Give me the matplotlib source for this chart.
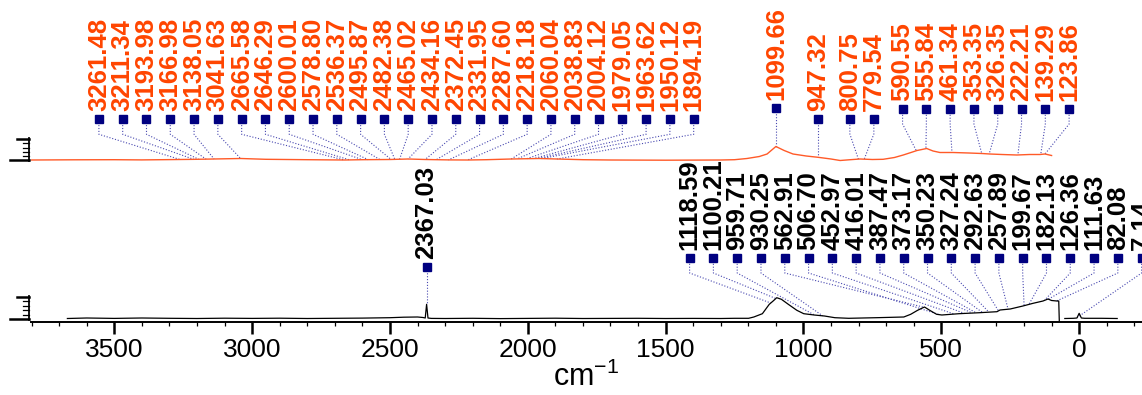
import matplotlib
matplotlib.use('Agg')
import matplotlib.pyplot as plt
from matplotlib.lines import Line2D
from matplotlib.ticker import MultipleLocator
import numpy as np

plt.rcParams['font.family'] = ['Liberation Sans', 'DejaVu Sans']
plt.rcParams['mathtext.default'] = 'regular'

# ---- data ----
# upper (red) trace: wavenumber / height above its own baseline
red_wn = [3800, 3650, 3500, 3400, 3261, 3200, 3140, 3041, 2950, 2800, 2665, 2600,
          2500, 2434, 2372, 2287, 2218, 2150, 2060, 1960, 1894, 1800, 1700, 1600,
          1500, 1400, 1300, 1250, 1205, 1160, 1132, 1100, 1070, 1038, 990, 947,
          900, 867, 830, 795, 750, 711, 670, 638, 610, 588, 553, 530, 505, 458,
          400, 353, 324, 280, 226, 180, 142, 124, 100]
red_int = [0.5, 0.7, 0.8, 0.6, 1.0, 1.2, 1.5, 2.0, 1.2, 0.8, 0.5, 0.8,
           1.0, 1.5, 1.0, 0.6, 0.5, 0.8, 1.5, 2.0, 1.5, 0.8, 0.5, 0.4,
           0.3, 0.4, 0.5, 0.8, 2.0, 4.0, 6.5, 14.0, 10.0, 6.5, 4.5, 3.2,
           1.5, 0.0, 0.8, 1.5, 1.0, 1.2, 3.0, 5.5, 8.0, 10.0, 12.0, 9.5, 8.0, 8.0,
           7.5, 7.0, 6.5, 6.0, 5.5, 6.0, 6.0, 6.5, 5.0]

# lower (black) trace: wavenumber / height above axis
black_wn = [3670, 3600, 3500, 3400, 3300, 3200, 3100, 3000, 2900, 2800, 2700, 2600,
            2500, 2450, 2400, 2380, 2372, 2367, 2362, 2350, 2300, 2200, 2100, 2000,
            1900, 1800, 1700, 1600, 1500, 1400, 1300, 1250, 1199, 1180, 1149, 1124,
            1110, 1097, 1080, 1055, 1024, 999, 961, 924, 886, 836, 736, 636, 611,
            586, 561, 542, 517, 498, 436, 361, 298, 287, 250, 204, 167, 131, 113,
            100, 81, 74, 72, np.nan, 52, 20, 8, 0, -8, -20, -80, -138]
black_int = [3.5, 4.0, 3.6, 4.0, 3.7, 3.5, 3.8, 3.6, 3.8, 3.5, 3.7, 3.9,
             4.3, 4.8, 5.0, 4.5, 4.0, 17.7, 4.0, 3.6, 3.5, 3.7, 3.4, 3.6,
             3.8, 3.5, 3.6, 3.7, 3.5, 3.6, 3.5, 3.7, 3.7, 5.0, 8.3, 17.7,
             21.0, 24.3, 22.7, 17.7, 11.7, 8.3, 7.0, 6.0, 4.3, 3.7, 4.3, 5.0, 7.7,
             11.7, 15.0, 11.7, 7.7, 7.0, 8.3, 9.3, 10.3, 12.0, 13.0, 16.0, 18.7, 21.0, 23.0,
             21.5, 21.0, 21.0, 1.0, np.nan, 3.5, 3.7, 4.0, 8.7, 4.0, 3.7, 3.7, 3.5]

red_peaks1 = [3261.48, 3211.34, 3193.98, 3166.98, 3138.05, 3041.63, 2665.58, 2646.29,
              2600.01, 2578.80, 2536.37, 2495.87, 2482.38, 2465.02, 2434.16, 2372.45,
              2331.95, 2287.60, 2218.18, 2060.04, 2038.83, 2004.12, 1979.05, 1963.62,
              1950.12, 1894.19]
red_peaks2 = [1099.66]
red_peaks3 = [947.32, 800.75, 779.54]
red_peaks4 = [590.55, 555.84, 461.34, 353.35, 326.35, 222.21, 139.29, 123.86]
black_peaks1 = [2367.03]
black_peaks2 = [1118.59, 1100.21, 959.71, 930.25, 562.91, 506.70, 452.97, 416.01,
                387.47, 373.17, 350.23, 327.24, 292.63, 257.89, 199.67, 182.13,
                126.36, 111.63, 82.08, 7.14]

# ---- layout ----
W, H = 1142, 395
fig = plt.figure(figsize=(W / 100, H / 100), dpi=100)
ax = fig.add_axes([31 / W, (H - 322) / H, 1 - 31 / W, 322 / H])
ax.set_xlim(3802, -228)
ax.set_ylim(0, 322)

RED = '#ff4500'
NAVY = '#000080'
LEAD = '#4848b0'
step = 86.3
red_base = 161.5

red_wn = np.array(red_wn)
red_y = np.array(red_int) + red_base
black_wn = np.array(black_wn)
black_y = np.array(black_int)

ax.plot(red_wn, red_y, color='#ff5a28', lw=1.0)
ax.plot(black_wn, black_y, color='black', lw=0.9)


def label_peaks(peaks, xs, y_sq, wn, yv, color):
    ok = ~np.isnan(wn)
    wn_s, y_s = wn[ok][::-1], yv[ok][::-1]
    for p, xl in zip(peaks, xs):
        yp = np.interp(p, wn_s, y_s)
        ax.plot([xl, xl, p], [y_sq, y_sq - 15, yp], color=LEAD, lw=0.8,
                ls=(0, (1, 1.6)), clip_on=False, zorder=1)
        ax.text(xl, y_sq + 8, f'{p:.2f}', rotation=90, ha='center', va='bottom',
                fontsize=18.5, fontweight='bold', color=color, clip_on=False)
    ax.plot(xs, [y_sq] * len(xs), 's', color=NAVY, ms=6, clip_on=False, zorder=3)


xs1 = [3555.7 - i * step for i in range(len(red_peaks1))]
label_peaks(red_peaks1, xs1, 202.7, red_wn, red_y, RED)
label_peaks(red_peaks2, red_peaks2, 214.3, red_wn, red_y, RED)
xs3 = [947.32, 831.7, 744.7]
label_peaks(red_peaks3, xs3, 203, red_wn, red_y, RED)
xs4 = [640.5 - i * step for i in range(len(red_peaks4))]
label_peaks(red_peaks4, xs4, 213, red_wn, red_y, RED)
label_peaks(black_peaks1, black_peaks1, 55, black_wn, black_y, 'black')
xs6 = [1413 - i * step for i in range(len(black_peaks2))]
label_peaks(black_peaks2, xs6, 64, black_wn, black_y, 'black')

# axis styling
for s in ['left', 'right', 'top']:
    ax.spines[s].set_visible(False)
ax.spines['bottom'].set_linewidth(1.4)
ax.set_yticks([])
ax.set_xticks(range(3500, -1, -500))
ax.xaxis.set_minor_locator(MultipleLocator(100))
ax.tick_params(axis='x', which='major', length=8.5, width=1.8, labelsize=19, pad=3)
ax.tick_params(axis='x', which='minor', length=3.2, width=0.9)
ax.set_xlabel('cm$^{-1}$', fontsize=22, labelpad=0)
ax.patch.set_alpha(0)


# small intensity scale bars on the left (pixel coords from top-left)
def px_line(xs, ys, lw):
    fig.add_artist(Line2D([x / W for x in xs], [1 - y / H for y in ys],
                          transform=fig.transFigure, color='black', lw=lw))


for top, bot in [(139, 160.5), (297, 319)]:
    px_line([29, 29], [top - 1, bot + 1], 1.3)
    px_line([17, 29], [top, top], 1.8)
    px_line([10, 29], [bot, bot], 1.8)
    for k in range(1, 5):
        yk = top + k * (bot - top) / 5
        px_line([23, 29], [yk, yk], 0.9)

fig.savefig('out.png', dpi=100)
